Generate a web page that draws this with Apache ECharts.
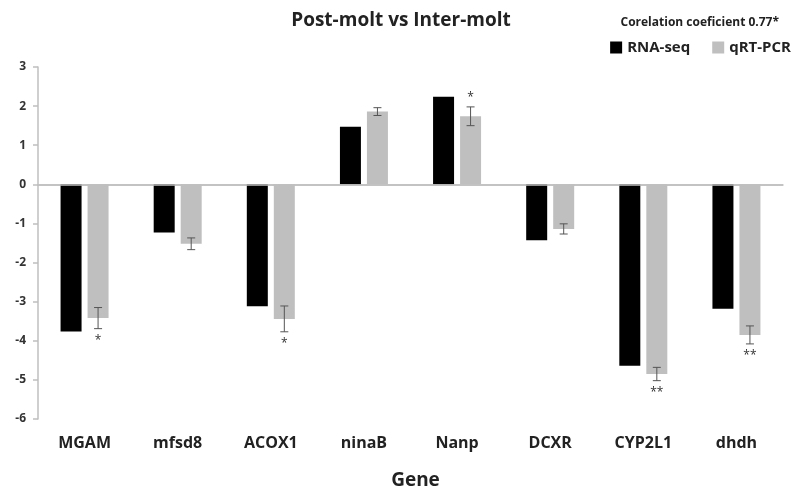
<!DOCTYPE html>
<html>
<head>
<meta charset="utf-8">
<script src="https://cdn.jsdelivr.net/npm/echarts@6/dist/echarts.min.js"></script>
<style>
  html, body { margin: 0; padding: 0; background: #fff; }
  #chart { width: 802px; height: 491px; }
</style>
</head>
<body>
<div id="chart"></div>
<script>
// values (log2 fold change)
var genes = ['MGAM', 'mfsd8', 'ACOX1', 'ninaB', 'Nanp', 'DCXR', 'CYP2L1', 'dhdh'];
var rnaSeq = [-3.76, -1.23, -3.12, 1.47, 2.24, -1.43, -4.64, -3.18];
var qrtPcr = [-3.42, -1.52, -3.44, 1.86, 1.74, -1.14, -4.85, -3.85];
var qrtErr = [0.27, 0.15, 0.33, 0.10, 0.24, 0.13, 0.17, 0.23];
var signif = ['*', '', '*', '', '*', '', '**', '**'];
var yTicks = [-6, -5, -4, -3, -2, -1, 0, 1, 2, 3];

var font = "'Open Sans', 'DejaVu Sans', sans-serif";
var barW = 21, barGap = 6;

var chart = echarts.init(document.getElementById('chart'));

chart.setOption({
    animation: false,
    textStyle: { fontFamily: font },
    title: [{
        text: 'Post-molt vs Inter-molt',
        left: 'center',
        top: 6,
        textStyle: { fontSize: 19, fontWeight: 'bold', color: '#222' }
    }, {
        text: 'Corelation coeficient 0.77*',
        right: 18,
        top: 12,
        textStyle: { fontSize: 12, fontWeight: 'bold', color: '#222' }
    }],
    legend: {
        right: 6,
        top: 35,
        itemWidth: 12,
        itemHeight: 12,
        itemGap: 22,
        icon: 'rect',
        textStyle: { fontSize: 15, fontWeight: 'bold', color: '#222' },
        data: ['RNA-seq', 'qRT-PCR']
    },
    grid: { left: 38, right: 19, top: 67, bottom: 72, containLabel: false, outerBoundsMode: 'none' },
    xAxis: {
        type: 'category',
        data: genes,
        name: 'Gene',
        nameLocation: 'middle',
        nameGap: 52,
        nameTextStyle: { fontSize: 19, fontWeight: 'bold', color: '#222', padding: [0, 0, 0, 10] },
        axisLine: { lineStyle: { color: '#bfbfbf', width: 1.5 } },
        axisTick: { alignWithLabel: true, length: 13, lineStyle: { color: '#bfbfbf', width: 1.5 } },
        axisLabel: { fontSize: 16, fontWeight: 'bold', color: '#222', margin: 16 }
    },
    yAxis: {
        type: 'value',
        min: yTicks[0],
        max: yTicks[yTicks.length - 1],
        interval: 1,
        axisLine: { show: true, lineStyle: { color: '#bfbfbf', width: 1.5 } },
        axisTick: { show: true, length: 5, lineStyle: { color: '#bfbfbf', width: 1.5 } },
        splitLine: { show: false },
        axisLabel: { fontSize: 12, fontWeight: 'bold', color: '#333', margin: 12 }
    },
    series: [{
        name: 'RNA-seq',
        type: 'bar',
        data: rnaSeq,
        barWidth: barW,
        barGap: (barGap / barW * 100) + '%',
        itemStyle: { color: '#000' },
        markLine: {
            silent: true,
            symbol: 'none',
            label: { show: false },
            lineStyle: { color: '#bfbfbf', width: 1.5, type: 'solid' },
            data: [{ yAxis: 0 }]
        }
    }, {
        name: 'qRT-PCR',
        type: 'bar',
        data: qrtPcr,
        barWidth: barW,
        itemStyle: { color: '#bfbfbf' }
    }, {
        type: 'custom',
        name: 'err',
        silent: true,
        z: 5,
        data: genes.map(function (g, i) { return [i, qrtPcr[i], qrtErr[i]]; }),
        renderItem: function (params, api) {
            var i = api.value(0), v = api.value(1), e = api.value(2);
            var off = (barW + barGap) / 2;
            var hi = api.coord([i, v + e]);
            var lo = api.coord([i, v - e]);
            var x = hi[0] + off;
            var cap = 4;
            var style = { stroke: '#555', lineWidth: 1 };
            var children = [
                { type: 'line', shape: { x1: x, y1: hi[1], x2: x, y2: lo[1] }, style: style },
                { type: 'line', shape: { x1: x - cap, y1: hi[1], x2: x + cap, y2: hi[1] }, style: style },
                { type: 'line', shape: { x1: x - cap, y1: lo[1], x2: x + cap, y2: lo[1] }, style: style }
            ];
            var s = signif[i];
            if (s) {
                children.push({
                    type: 'text',
                    style: {
                        text: s,
                        x: x,
                        y: v < 0 ? lo[1] + 6 : hi[1] - 15,
                        align: 'center',
                        verticalAlign: 'top',
                        fontSize: 12,
                        fontFamily: font,
                        fill: '#333'
                    }
                });
            }
            return { type: 'group', children: children };
        }
    }]
});
</script>
</body>
</html>
